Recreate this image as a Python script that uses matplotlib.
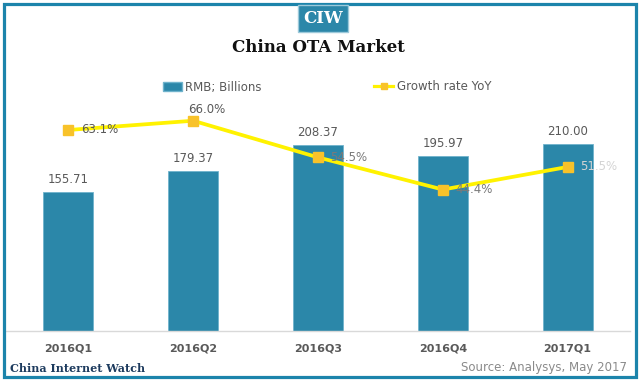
import matplotlib.pyplot as plt
from matplotlib.patches import Rectangle, Patch
from matplotlib.lines import Line2D

quarters = ['2016Q1', '2016Q2', '2016Q3', '2016Q4', '2017Q1']
market_rmb = [155.71, 179.37, 208.37, 195.97, 210.00]
growth_yoy = [63.1, 66.0, 54.5, 44.4, 51.5]
growth_colors = ['#595959', '#595959', '#7a7a7a', '#7a7a7a', '#d4d4d4']

bar_color = '#2b87a9'
frame_color = '#1c84ab'
text_gray = '#595959'

fig = plt.figure(figsize=(6.4, 3.81), dpi=100)

# axes area in pixels: x 6..630, y 108..331 (from top)
W, H = 640, 381
ax = fig.add_axes([6 / W, (H - 331) / H, 624 / W, 223 / H])
x = list(range(len(quarters)))
bars = ax.bar(x, market_rmb, width=0.4, color=bar_color, edgecolor='#6fb3cc', linewidth=0.6, zorder=2)
ax.set_xlim(-0.5, 4.5)
ax.set_ylim(0, 250)
for i, v in enumerate(market_rmb):
    ax.annotate('%.2f' % v, (i, v), xytext=(0, 9), textcoords='offset points',
                ha='center', va='center', fontsize=8.5, color=text_gray)

ax.set_yticks([])
for s in ['top', 'right', 'left']:
    ax.spines[s].set_visible(False)
ax.spines['bottom'].set_color('#d9d9d9')
ax.spines['bottom'].set_linewidth(1)
ax.set_xticks(x)
ax.set_xticklabels(quarters, fontsize=8, color=text_gray, fontweight='semibold')
ax.tick_params(axis='x', length=0, pad=9)

ax2 = ax.twinx()
ax2.set_ylim(0, 70)
ax2.plot(x, growth_yoy, color='#fff200', linewidth=2.7, marker='s', markersize=7,
         markerfacecolor='#f8c22a', markeredgecolor='#f8c22a', zorder=3)
ax2.set_yticks([])
for s in ax2.spines.values():
    s.set_visible(False)
offsets = [(9, 0), (-4, 8), (9, 0), (9, 0), (9, 0)]
for i, v in enumerate(growth_yoy):
    ax2.annotate('%.1f%%' % v, (i, v), xytext=offsets[i], textcoords='offset points',
                 ha='left', va='center', fontsize=8.5, color=growth_colors[i])

# legend
handles = [Patch(facecolor=bar_color, edgecolor='#6fb3cc'),
           Line2D([], [], color='#fff200', linewidth=2.3, marker='s', markersize=5,
                  markerfacecolor='#f8c22a', markeredgecolor='#f8c22a')]
fig.legend(handles, ['RMB; Billions', 'Growth rate YoY'], ncol=2, frameon=False,
           loc='center', bbox_to_anchor=(327 / W, 1 - 87 / H), fontsize=8.5,
           labelcolor=text_gray, columnspacing=9.5, handlelength=1.6, handletextpad=0.3)

# title
fig.text(318 / W, 1 - 48 / H, 'China OTA Market', ha='center', va='center',
         fontsize=12, fontweight='bold', family='DejaVu Serif', color='#111111')

# frame
fig.patches.append(Rectangle((4 / W, 4 / H), 632 / W, 373 / H, transform=fig.transFigure,
                             fill=False, edgecolor=frame_color, linewidth=2.3))
# CIW badge
fig.patches.append(Rectangle((298 / W, 1 - 32 / H), 50 / W, 27 / H, transform=fig.transFigure,
                             facecolor=bar_color, edgecolor='#9cc9da', linewidth=1, zorder=5))
fig.text(323 / W, 1 - 18.5 / H, 'CIW', ha='center', va='center', fontsize=12,
         fontweight='bold', family='DejaVu Serif', color='white', zorder=6)

# footer
fig.text(10 / W, 1 - 368 / H, 'China Internet Watch', ha='left', va='center',
         fontsize=8, fontweight='bold', family='DejaVu Serif', color='#1d3b5e')
fig.text(627 / W, 1 - 368 / H, 'Source: Analysys, May 2017', ha='right', va='center',
         fontsize=8.5, color='#8a8a8a')

fig.savefig('out.png', dpi=100)
